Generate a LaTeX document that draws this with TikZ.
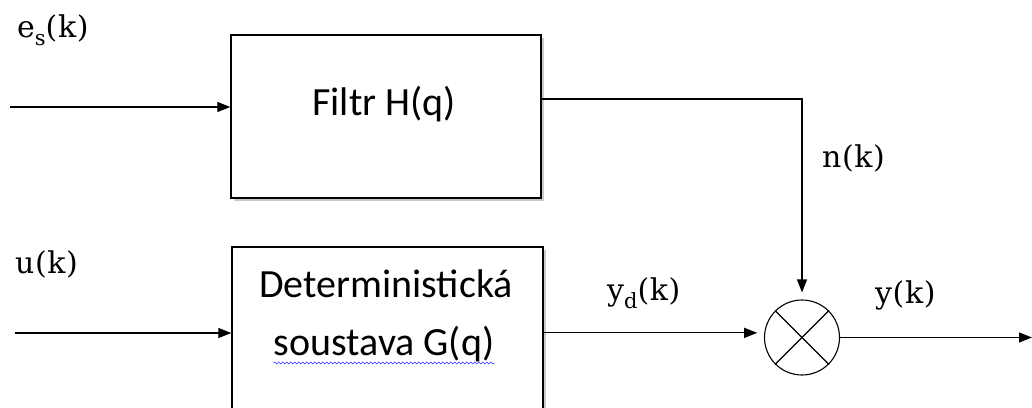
\documentclass[tikz,border=0pt]{standalone}
\usepackage{fontspec}
\setmainfont{DejaVu Serif}
\newfontfamily\boxfont{Carlito}
\usetikzlibrary{arrows.meta,shadows,decorations.pathmorphing}
\newcommand\sigsub[1]{\raisebox{-0.28em}{\fontsize{21}{21}\selectfont #1}}
\tikzset{
  block/.style={draw, line width=1.4pt, fill=white,
    drop shadow={shadow xshift=2.5pt, shadow yshift=-2.5pt, opacity=0.35, fill=black!60}},
  sig/.style={line width=1.1pt, -{Triangle[length=13pt,width=10pt]}},
  wire/.style={line width=1.1pt},
  lbl/.style={anchor=base west, inner sep=0pt,
    font=\fontsize{30}{36}\selectfont\addfontfeature{LetterSpace=2}},
  btxt/.style={anchor=base, inner sep=0pt, font=\boxfont\fontsize{40}{48}\selectfont},
  squiggle/.style={blue!80, line width=0.6pt, decorate,
    decoration={snake, amplitude=1pt, segment length=4pt}},
}
\begin{document}
\begin{tikzpicture}[x=1pt, y=-1pt]
  \path[use as bounding box, clip] (0,0) rectangle (1032,407);

  % blocks
  \node[block, minimum width=310pt, minimum height=163pt] (filt) at (386,116.5) {};
  \node[block, minimum width=311pt, minimum height=173pt] (plant) at (387.5,333.5) {};
  \node[btxt] (ft) at (384,115) {Filtr H(q)};
  \node[btxt] (d1) at (386,297) {Deterministická};
  \node[btxt] (d2) at (384,355) {soustava G(q)};
  \draw[squiggle] ([yshift=-8pt]d2.base west) -- ([yshift=-8pt]d2.base east);

  % summing junction
  \node[draw, circle, line width=1.1pt, minimum size=75pt, inner sep=0pt] (sum) at (802,337.5) {};
  \draw[wire] (sum.north west) -- (sum.south east);
  \draw[wire] (sum.north east) -- (sum.south west);

  % free ends of the signal lines
  \coordinate (esin) at (10,107);
  \coordinate (uin) at (15,333);
  \coordinate (corner) at (802,99);
  \coordinate (yout) at (1032,337.5);

  % connectors
  \draw[sig] (esin) -- (esin -| filt.west);
  \draw[sig] (uin) -- (uin -| plant.west);
  \draw[sig, shorten >=7pt] (corner -| filt.east) -- (corner) -- (sum.north);
  \draw[sig, shorten >=7pt] (plant.east |- sum.173) -- (sum.173);
  \draw[sig] (sum.east) -- (yout);

  % signal labels
  \node[lbl] (es) at (17,37) {e\sigsub{s}(k)};
  \node[lbl] (nk) at (822,167) {n(k)};
  \node[lbl] (uk) at (15,273) {u(k)};
  \node[lbl] (ydk) at (607,300) {y\sigsub{d}(k)};
  \node[lbl] (yk) at (875,303) {y(k)};
\end{tikzpicture}
\end{document}
